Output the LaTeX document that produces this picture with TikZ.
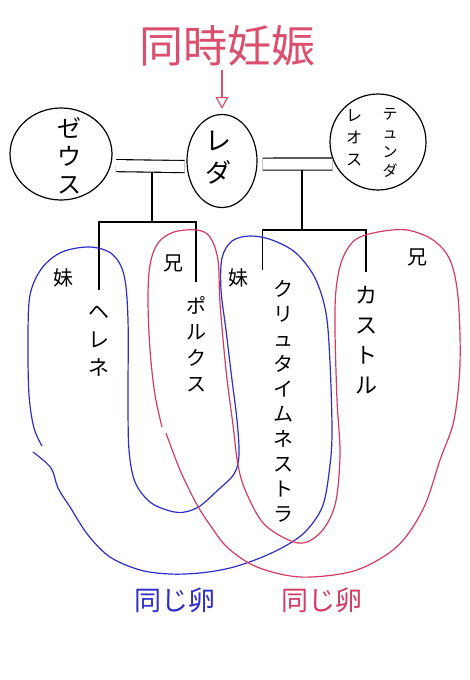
\documentclass[tikz,border=0pt]{standalone}
\usepackage{fontspec}
\usepackage{tikz}
\usetikzlibrary{arrows.meta,shapes.geometric,positioning}
\newfontfamily\jp{Noto Sans CJK JP}
\definecolor{eggblue}{RGB}{45,45,200}
\definecolor{eggred}{RGB}{212,58,98}
\definecolor{notepink}{RGB}{220,78,110}

\begin{document}
\begin{tikzpicture}[
x=1pt, y=-1pt,
font=\jp,
person/.style={draw, ellipse, line width=1.2pt, inner sep=0pt},
personname/.style={align=center, inner sep=0pt},
marriage/.style={double, double distance=11pt, line width=1.1pt, shorten <=5pt, shorten >=2pt},
family/.style={line width=1.1pt},
child/.style={anchor=north, align=center, inner xsep=0pt, inner ysep=14pt, font=\jp\fontsize{20}{26}\selectfont},
tag/.style={inner sep=0pt, font=\jp\fontsize{20}{20}\selectfont},
egg/.style={line width=1.2pt, smooth, tension=0.55},
eggtext/.style={inner sep=0pt, font=\jp\fontsize{27}{27}\selectfont}
]
    \useasboundingbox (0,0) rectangle (470,680);

    % Draw title and arrow
    \node[text=notepink, font=\jp\fontsize{44}{44}\selectfont] (title) at (227,46) {同時妊娠};

    % Draw parents
    \node[person, minimum width=102pt, minimum height=92pt] (zeus) at (61,154) {};
    \node[personname, font=\jp\fontsize{24}{28}\selectfont] (zeusname) at (69,156) {ゼ\\ウ\\ス};
    \node[person, minimum width=70pt, minimum height=93pt] (leda) at (222,161) {};
    \node[personname, font=\jp\fontsize{26}{32}\selectfont] (ledaname) at (218,158) {レ\\ダ};
    \node[person, minimum width=96pt, minimum height=96pt] (tyndareus) at (378,142) {};
    \node[personname, font=\jp\fontsize{15}{19}\selectfont] (tyndname1) at (390,143) {テ\\ュ\\ン\\ダ};
    \node[personname, font=\jp\fontsize{16}{22}\selectfont] (tyndname2) at (354,138) {レ\\オ\\ス};

    \draw[-{Triangle[open,length=12pt,width=13pt]}, notepink, line width=1.2pt, shorten >=5pt]
        (title.south -| leda.north) -- (leda.north);

    \draw[marriage] (zeus.-13) -- (leda.189);
    \draw[marriage] (leda.-5) -- (tyndareus.207);

    \draw
    (152,172) coordinate (zdrop)
    (302,170) coordinate (tdrop);
    \draw[family] (zdrop) -- ++(0,50) coordinate (zbar);
    \draw[family] (tdrop) -- ++(0,60) coordinate (tbar);

    % Draw children
    \node[child, inner ysep=16pt, font=\jp\fontsize{21}{28}\selectfont] (helen) at (99,290) {ヘ\\レ\\ネ};
    \node[child] (pollux) at (196,282) {ポ\\ル\\ク\\ス};
    \node[child, inner xsep=10pt, inner ysep=10pt, font=\jp\fontsize{20}{25}\selectfont] (clytemnestra) at (283,270)
        {ク\\リ\\ュ\\タ\\イ\\ム\\ネ\\ス\\ト\\ラ};
    \node[child, font=\jp\fontsize{22}{30}\selectfont] (castor) at (366,272) {カ\\ス\\ト\\ル};

    \draw[family] (helen.north) |- (zbar) -| (pollux.north);
    \draw[family] (clytemnestra.north west) |- (tbar) -| (castor.north);

    \node[tag] (helentag) at (63,278) {妹};
    \node[tag] (polluxtag) at (173,263) {兄};
    \node[tag] (clytag) at (238,278) {妹};
    \node[tag] (castortag) at (417,257) {兄};

    % Draw eggs
    \draw[egg, eggblue] plot coordinates {(42,446) (34,428) (29,395) (28,340) (30,295) (42,268) (62,252)
        (90,247) (112,254) (124,275) (128,320) (128,400) (129,450) (135,482) (150,502) (170,511)
        (185,512) (200,506) (218,490) (234,474) (239,455) (237,420) (232,380) (226,330) (221,290)
        (222,258) (232,241) (250,236) (272,240) (296,253) (315,278) (326,313) (330,363) (332,430)
        (330,465) (323,505) (307,530) (287,545) (260,558) (230,568) (200,573) (170,574) (140,570)
        (110,557) (88,535) (70,507) (58,488) (51,468) (33,452)};
    \draw[egg, eggred] plot coordinates {(162,427) (155,395) (150,350) (148,300) (150,265) (158,243)
        (174,232) (197,230) (210,237) (218,260) (220,303) (226,370) (233,425) (238,465) (246,492)
        (265,525) (298,543) (320,533) (335,505) (340,455) (337,400) (335,330) (336,290) (342,260)
        (355,240) (378,232) (407,230) (433,240) (450,260) (458,297) (460,363) (454,420) (440,460)
        (425,505) (405,538) (383,557) (350,572) (300,577) (257,567) (228,548) (210,525) (196,503)
        (180,470) (166,433)};

    \node[eggtext, text=eggblue] (blueegg) at (175,600) {同じ卵};
    \node[eggtext, text=eggred] (redegg) at (322,600) {同じ卵};

\end{tikzpicture}
\end{document}
